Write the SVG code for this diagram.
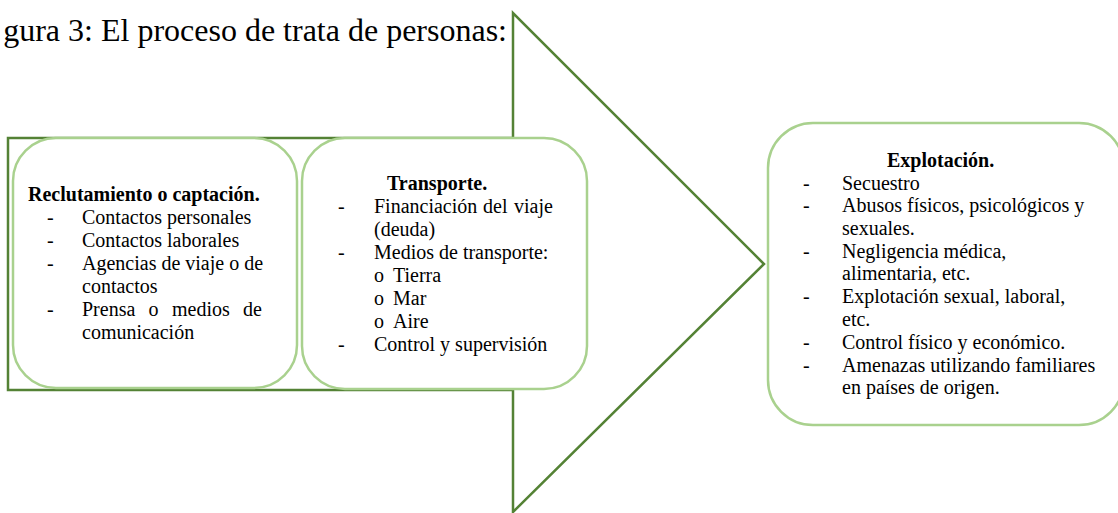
<svg xmlns="http://www.w3.org/2000/svg" width="1118" height="513" viewBox="0 0 1118 513">
<style>
.t{font-family:"Liberation Serif","Times New Roman",serif;font-size:20px;fill:#000}
.b{font-weight:bold}
.title{font-family:"Liberation Serif","Times New Roman",serif;font-size:32px;fill:#000}
.box{fill:#fff;stroke:#a9d18e;stroke-width:2.5}
.arrow{fill:#fff;stroke:#548235;stroke-width:2.5;stroke-linejoin:miter}
</style>
<rect width="1118" height="513" fill="#fff"/>
<text class="title" x="507" y="41" text-anchor="end">gura 3: El proceso de trata de personas:</text>
<g id="connectors">
<polygon class="arrow" points="8,138 513,138 513,13 764,264 513,512 513,390 8,390"/>
</g>
<g id="node-reclutamiento">
<rect class="box" x="13" y="138" width="284" height="250" rx="43" ry="43"/>
<text class="t b" x="28" y="201">Reclutamiento o captación.</text>
<text class="t" x="47" y="224">-</text><text class="t" x="82" y="224">Contactos personales</text>
<text class="t" x="47" y="247">-</text><text class="t" x="82" y="247">Contactos laborales</text>
<text class="t" x="47" y="270">-</text><text class="t" x="82" y="270">Agencias de viaje o de</text>
<text class="t" x="82" y="293">contactos</text>
<text class="t" x="47" y="316">-</text><text class="t" y="316"><tspan x="82">Prensa</tspan><tspan x="148.6">o</tspan><tspan x="172">medios</tspan><tspan x="243">de</tspan></text>
<text class="t" x="82" y="339">comunicación</text>
</g>
<g id="node-transporte">
<rect class="box" x="302" y="138" width="285" height="251" rx="43" ry="43"/>
<text class="t b" x="387" y="190">Transporte.</text>
<text class="t" x="338" y="213">-</text><text class="t" y="213"><tspan x="374">Financiación</tspan><tspan x="483">del</tspan><tspan x="514">viaje</tspan></text>
<text class="t" x="374" y="236">(deuda)</text>
<text class="t" x="338" y="259">-</text><text class="t" x="374" y="259">Medios de transporte:</text>
<text class="t" x="374" y="282">o</text><text class="t" x="393" y="282">Tierra</text>
<text class="t" x="374" y="305">o</text><text class="t" x="393" y="305">Mar</text>
<text class="t" x="374" y="328">o</text><text class="t" x="393" y="328">Aire</text>
<text class="t" x="338" y="351">-</text><text class="t" x="374" y="351">Control y supervisión</text>
</g>
<g id="node-explotacion">
<rect class="box" x="768" y="123" width="356" height="302" rx="45" ry="45"/>
<text class="t b" x="887" y="167">Explotación.</text>
<text class="t" x="803" y="190">-</text><text class="t" x="842" y="190">Secuestro</text>
<text class="t" x="803" y="212">-</text><text class="t" x="842" y="212">Abusos físicos, psicológicos y</text>
<text class="t" x="842" y="235">sexuales.</text>
<text class="t" x="803" y="258">-</text><text class="t" x="842" y="258">Negligencia médica,</text>
<text class="t" x="842" y="280">alimentaria, etc.</text>
<text class="t" x="803" y="303">-</text><text class="t" x="842" y="303">Explotación sexual, laboral,</text>
<text class="t" x="842" y="326">etc.</text>
<text class="t" x="803" y="349">-</text><text class="t" x="842" y="349">Control físico y económico.</text>
<text class="t" x="803" y="372">-</text><text class="t" x="842" y="372">Amenazas utilizando familiares</text>
<text class="t" x="842" y="394">en países de origen.</text>
</g>
</svg>
